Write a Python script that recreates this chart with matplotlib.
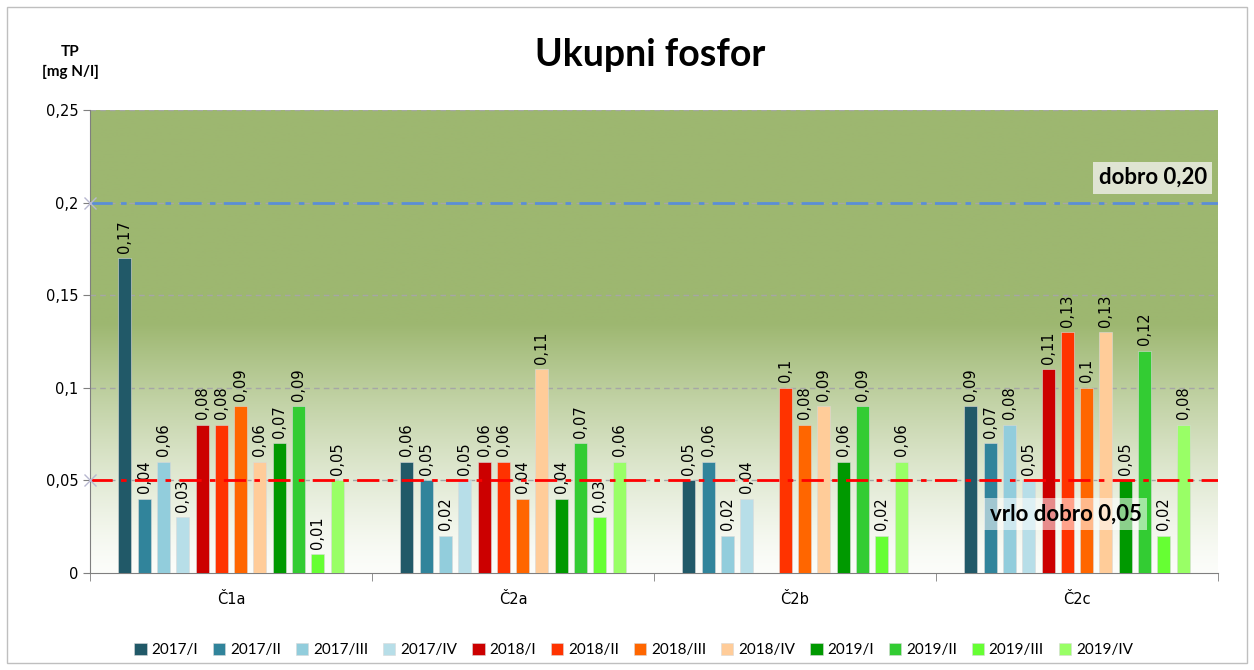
import matplotlib.pyplot as plt
import numpy as np
from matplotlib.ticker import FuncFormatter
from matplotlib.patches import Rectangle

# data
stations = ['Č1a', 'Č2a', 'Č2b', 'Č2c']
periods = ['2017/I', '2017/II', '2017/III', '2017/IV',
           '2018/I', '2018/II', '2018/III', '2018/IV',
           '2019/I', '2019/II', '2019/III', '2019/IV']
colors = ['#215968', '#31849B', '#92CDDC', '#B7DEE8',
          '#CC0000', '#FF3300', '#FF6600', '#FFCC99',
          '#009900', '#33CC33', '#66FF33', '#99FF66']

c1a = [0.17, 0.04, 0.06, 0.03, 0.08, 0.08, 0.09, 0.06, 0.07, 0.09, 0.01, 0.05]
c2a = [0.06, 0.05, 0.02, 0.05, 0.06, 0.06, 0.04, 0.11, 0.04, 0.07, 0.03, 0.06]
c2b = [0.05, 0.06, 0.02, 0.04, np.nan, 0.10, 0.08, 0.09, 0.06, 0.09, 0.02, 0.06]
c2c = [0.09, 0.07, 0.08, 0.05, 0.11, 0.13, 0.10, 0.13, 0.05, 0.12, 0.02, 0.08]
values = np.array([c1a, c2a, c2b, c2c])

limit_good = 0.20
limit_very_good = 0.05

plt.rcParams['font.family'] = ['Lato', 'DejaVu Sans']

fig = plt.figure(figsize=(12.54, 6.7), dpi=100)
ax = fig.add_axes([90 / 1254, 1 - 573 / 670, 1128 / 1254, 463 / 670])

ymax = 0.25
ax.set_xlim(0, 4)
ax.set_ylim(0, ymax)

# background: solid green on top, fading to white toward zero
top = np.array([157, 183, 112]) / 255
bottom = np.array([252, 253, 250]) / 255
yy = np.linspace(0, ymax, 400)
frac = np.clip(yy / 0.135, 0, 1) ** 1.3
grad = bottom[None, :] * (1 - frac[:, None]) + top[None, :] * frac[:, None]
grad = np.repeat(grad[:, None, :], 2, axis=1)
ax.imshow(grad, extent=[0, 4, 0, ymax], origin='lower', aspect='auto', zorder=0)

for y in [0.05, 0.1, 0.15, 0.2, 0.25]:
    ax.axhline(y, color='#A6A6A6', lw=1, ls=(0, (4, 3)), zorder=1)

pitch = 0.0684
width = 0.046
for j, (p, c) in enumerate(zip(periods, colors)):
    x = np.arange(4) + 0.5 + (j - 5.5) * pitch
    v = values[:, j]
    ax.bar(x, v, width=width, color=c, edgecolor='#D9D9D9', linewidth=0.4, label=p, zorder=3)
    for xi, vi in zip(x, v):
        if np.isnan(vi):
            continue
        ax.text(xi, vi + 0.003, f'{vi:g}'.replace('.', ','), rotation=90,
                ha='center', va='bottom', fontsize=10.5, family='DejaVu Sans', zorder=4)

# limit lines
ax.plot([0, 4], [limit_good] * 2, color='#5B8ED6', lw=2, ls=(0, (8, 3, 2, 3)), zorder=5)
ax.plot([0, 4], [limit_very_good] * 2, color='#FF0000', lw=2, ls=(0, (8, 3, 2, 3)), zorder=5)
ax.plot([0, 0], [limit_good, limit_very_good], ls='none', marker='x', ms=8,
        color='#B8B8D0', clip_on=False, zorder=6)

ax.text(3.96, 0.2135, 'dobro 0,20', ha='right', va='center', fontsize=16, fontweight='bold',
        bbox=dict(facecolor='#DFE4D2', edgecolor='none', pad=4), zorder=7)
ax.text(3.46, 0.032, 'vrlo dobro 0,05', ha='center', va='center', fontsize=16, fontweight='bold',
        bbox=dict(facecolor='white', alpha=0.55, edgecolor='none', pad=4), zorder=7)

ax.set_xticks([0.5, 1.5, 2.5, 3.5])
ax.set_xticklabels(stations, fontsize=10.5, family='DejaVu Sans')
ax.set_xticks([0, 1, 2, 3, 4], minor=True)
ax.tick_params(axis='x', which='major', length=0, pad=14)
ax.tick_params(axis='x', which='minor', length=6, color='#7F7F7F')
ax.set_yticks([0, 0.05, 0.1, 0.15, 0.2, 0.25])
ax.yaxis.set_major_formatter(FuncFormatter(lambda v, p: f'{v:g}'.replace('.', ',')))
ax.tick_params(axis='y', labelsize=10.5, length=5, color='#7F7F7F')
for lab in ax.get_yticklabels():
    lab.set_family('DejaVu Sans')
for s in ['top', 'right']:
    ax.spines[s].set_visible(False)
for s in ['left', 'bottom']:
    ax.spines[s].set_color('#7F7F7F')

fig.text(650 / 1254, 1 - 55 / 670, 'Ukupni fosfor', ha='center', va='center',
         fontsize=27, fontweight='bold')
fig.text(70 / 1254, 1 - 62 / 670, 'TP\n[mg N/l]', ha='center', va='center',
         fontsize=11, fontweight='bold', linespacing=1.5)

ax.legend(loc='center', bbox_to_anchor=(0.482, 1 - (650 - 110) / 463), ncol=12,
          frameon=False, fontsize=11, handlelength=0.8, handleheight=0.8,
          handletextpad=0.3, columnspacing=1.0)

fig.patches.append(Rectangle((7 / 1254, 7 / 670), 1 - 14 / 1254, 1 - 14 / 670,
                             transform=fig.transFigure, fill=False, edgecolor='#BFBFBF', lw=1))

fig.savefig('out.png', dpi=100)
